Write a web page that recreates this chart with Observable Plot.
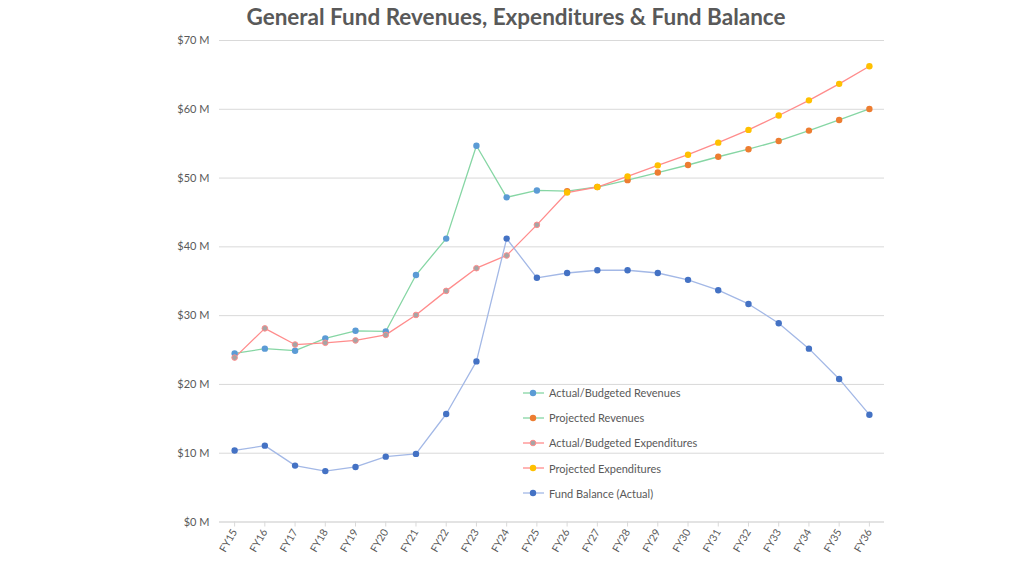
<!DOCTYPE html>
<html>
<head>
<meta charset="utf-8">
<script src="https://cdn.jsdelivr.net/npm/d3@7"></script>
<script src="https://cdn.jsdelivr.net/npm/@observablehq/plot@0.6"></script>
<style>
  html, body { margin: 0; padding: 0; background: #fff; width: 1024px; height: 576px; overflow: hidden; }
  #wrap { position: relative; width: 1024px; height: 576px; font-family: Lato, "Open Sans", sans-serif; }
  #title { position: absolute; left: 0; top: 0; width: 1032px; height: 34px; text-align: center;
           font: bold 22.5px Lato, "Open Sans", sans-serif; color: #595959; line-height: 34px; }
  #chart { position: absolute; left: 0; top: 34px; }
  #legend { position: absolute; left: 523px; top: 380px; font: 11px Lato, "Open Sans", sans-serif; color: #595959; }
  .row { display: flex; align-items: center; height: 25.2px; }
  .row svg { margin-right: 5px; }
</style>
</head>
<body>
<div id="wrap">
  <div id="title">General Fund Revenues, Expenditures &amp; Fund Balance</div>
  <div id="chart"></div>
  <div id="legend"></div>
</div>
<script>
const years = ["FY15","FY16","FY17","FY18","FY19","FY20","FY21","FY22","FY23","FY24","FY25",
               "FY26","FY27","FY28","FY29","FY30","FY31","FY32","FY33","FY34","FY35","FY36"];
const actualYears = years.slice(0, 11);
const projectedYears = years.slice(11);

const actualRevenues = [24.5, 25.2, 24.9, 26.7, 27.8, 27.7, 35.9, 41.2, 54.7, 47.2, 48.2];
const projectedRevenues = [48.1, 48.7, 49.7, 50.8, 51.9, 53.1, 54.2, 55.4, 56.9, 58.45, 60.05];
const actualExpenditures = [23.9, 28.15, 25.8, 26.05, 26.4, 27.2, 30.1, 33.6, 36.9, 38.75, 43.2];
const projectedExpenditures = [47.9, 48.7, 50.25, 51.85, 53.4, 55.15, 57.0, 59.1, 61.3, 63.7, 66.25];
const fundBalance = [10.4, 11.1, 8.2, 7.4, 8.0, 9.5, 9.9, 15.7, 23.35, 41.2, 35.5,
                     36.2, 36.6, 36.6, 36.2, 35.2, 33.7, 31.7, 28.9, 25.2, 20.8, 15.6];
const yTicks = [0, 10, 20, 30, 40, 50, 60, 70];
const legendLabels = ["Actual/Budgeted Revenues", "Projected Revenues", "Actual/Budgeted Expenditures",
                      "Projected Expenditures", "Fund Balance (Actual)"];

const C = {
  revLine: "#86D6A4", expLine: "#FF8C8C", balLine: "#A3B8E6",
  actRev: "#5B9BD5", projRev: "#ED7D31", actExp: "#A5A5A5", projExp: "#FFC000", bal: "#4472C4"
};

const toRows = (xs, vs) => xs.map((x, i) => ({year: x, value: vs[i]}));
const actRevRows = toRows(actualYears, actualRevenues);
const projRevRows = toRows(projectedYears, projectedRevenues);
const actExpRows = toRows(actualYears, actualExpenditures);
const projExpRows = toRows(projectedYears, projectedExpenditures);
const balRows = toRows(years, fundBalance);

const chart = Plot.plot({
  width: 1024,
  height: 542,
  marginLeft: 219,
  marginRight: 140,
  marginTop: 6,
  marginBottom: 54.5,
  x: {type: "point", domain: years, padding: 0.5, round: false},
  y: {domain: [0, 70]},
  style: {fontFamily: "Lato, 'Open Sans', sans-serif", background: "transparent", overflow: "visible"},
  marks: [
    Plot.gridY(yTicks, {stroke: "#D9D9D9", strokeOpacity: 1}),
    Plot.ruleY([0], {stroke: "#D9D9D9", strokeWidth: 1.2}),
    Plot.axisY(yTicks, {tickSize: 0, tickPadding: 10, tickFormat: d => `$${d} M`, fontSize: 11,
                        fill: "#595959", label: null}),
    Plot.axisX({tickSize: 5, stroke: "#D9D9D9", fill: "#595959", tickRotate: -60, fontSize: 10.5,
                tickPadding: 3, label: null}),
    Plot.line(actRevRows.concat(projRevRows), {x: "year", y: "value", stroke: C.revLine, strokeWidth: 1.3}),
    Plot.line(actExpRows.concat(projExpRows), {x: "year", y: "value", stroke: C.expLine, strokeWidth: 1.3}),
    Plot.line(balRows, {x: "year", y: "value", stroke: C.balLine, strokeWidth: 1.3}),
    Plot.dot(actRevRows, {x: "year", y: "value", r: 3.2, fill: C.actRev}),
    Plot.dot(projRevRows, {x: "year", y: "value", r: 3.2, fill: C.projRev}),
    Plot.dot(actExpRows, {x: "year", y: "value", r: 2.8, fill: C.actExp, stroke: C.expLine, strokeWidth: 1}),
    Plot.dot(projExpRows, {x: "year", y: "value", r: 3.2, fill: C.projExp}),
    Plot.dot(balRows, {x: "year", y: "value", r: 3.2, fill: C.bal})
  ]
});
document.getElementById("chart").appendChild(chart);

const legendStyles = [
  {line: C.revLine, fill: C.actRev, stroke: "none"},
  {line: C.revLine, fill: C.projRev, stroke: "none"},
  {line: C.expLine, fill: C.actExp, stroke: C.expLine},
  {line: C.expLine, fill: C.projExp, stroke: "none"},
  {line: C.balLine, fill: C.bal, stroke: "none"}
];
const legend = document.getElementById("legend");
legendLabels.forEach((lab, i) => {
  const s = legendStyles[i];
  const row = document.createElement("div");
  row.className = "row";
  row.innerHTML = `<svg width="21" height="10"><line x1="0" x2="21" y1="5" y2="5" stroke="${s.line}" stroke-width="1.3"/>` +
    `<circle cx="10" cy="5" r="${s.stroke === "none" ? 3.2 : 2.8}" fill="${s.fill}" stroke="${s.stroke}" stroke-width="1"/></svg>` +
    `<span>${lab}</span>`;
  legend.appendChild(row);
});
</script>
</body>
</html>
